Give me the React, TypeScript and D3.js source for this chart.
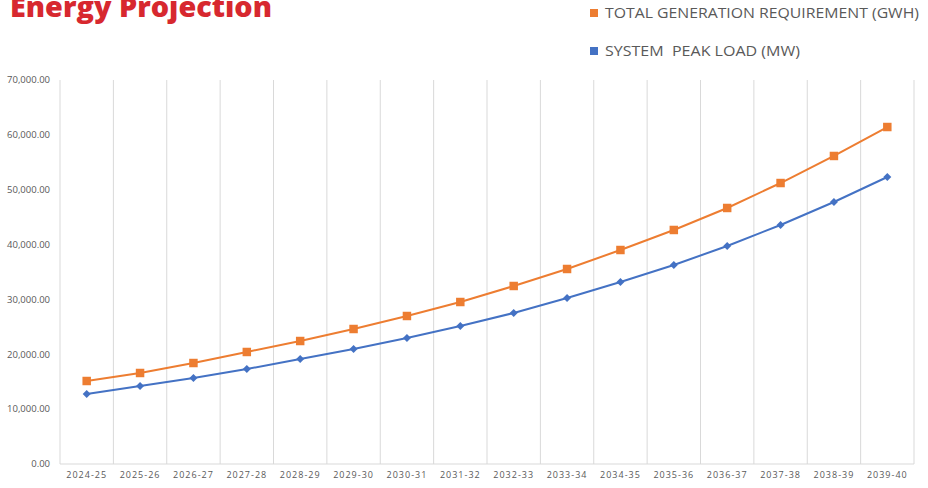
import React from "react";
import * as d3 from "d3";

const categories = ["2024-25","2025-26","2026-27","2027-28","2028-29","2029-30","2030-31","2031-32","2032-33","2033-34","2034-35","2035-36","2036-37","2037-38","2038-39","2039-40"];
const totalGeneration = [15130,16590,18410,20420,22420,24610,26980,29530,32450,35550,39010,42660,46670,51220,56150,61430];
const peakLoad = [12760,14220,15680,17320,19140,20960,22970,25160,27530,30260,33180,36280,39740,43570,47760,52320];
const yTicks = [0,10000,20000,30000,40000,50000,60000,70000];

const W = 928, H = 488;
const M = { left: 60, right: 14, top: 80, bottom: 24 };
const ORANGE = "#ED7D31";
const BLUE = "#4472C4";

export default function App() {
  const x = d3.scaleBand<string>().domain(categories).range([M.left, W - M.right]);
  const y = d3.scaleLinear().domain([0, 70000]).range([H - M.bottom, M.top]);
  const cx = (c: string) => (x(c) as number) + x.bandwidth() / 2;
  const line = d3.line<number>().x((_, i) => cx(categories[i])).y(d => y(d));
  const fmt = d3.format(",.2f");
  const sq = d3.symbol(d3.symbolSquare, 72)();
  const dia = d3.symbol(d3.symbolSquare, 32)();

  return (
    <svg width={W} height={H} style={{ position: "absolute", left: 0, top: 0 }} fontFamily="'Open Sans', sans-serif">
      <rect width={W} height={H} fill="#fff" />
      <text x={10} y={17} fill="#D7282F" fontSize={28} fontWeight={800} fontFamily="'Open Sans', sans-serif" textLength={262} lengthAdjust="spacingAndGlyphs">Energy Projection</text>
      {/* legend */}
      <rect x={590} y={9} width={8} height={8} fill={ORANGE} />
      <text x={605} y={18} fontSize={15} fill="#595959" textLength={314} lengthAdjust="spacingAndGlyphs">TOTAL GENERATION REQUIREMENT (GWH)</text>
      <rect x={590} y={47} width={8} height={8} fill={BLUE} />
      <text x={605} y={56} fontSize={15} fill="#595959" textLength={195} lengthAdjust="spacingAndGlyphs" style={{ whiteSpace: "pre" }}>{"SYSTEM  PEAK LOAD (MW)"}</text>
      {/* vertical gridlines */}
      {categories.map(c => (
        <line key={c} x1={x(c)} x2={x(c)} y1={y(70000)} y2={y(0)} stroke="#D9D9D9" strokeWidth={1} />
      ))}
      <line x1={W - M.right} x2={W - M.right} y1={y(70000)} y2={y(0)} stroke="#D9D9D9" strokeWidth={1} />
      <line x1={M.left} x2={W - M.right} y1={y(0)} y2={y(0)} stroke="#D9D9D9" strokeWidth={1} />
      {/* y labels */}
      {yTicks.map(t => (
        <text key={t} x={50} y={y(t)} dy="0.35em" textAnchor="end" fontSize={9.5} fill="#595959">{fmt(t)}</text>
      ))}
      {/* x labels */}
      {categories.map(c => (
        <text key={c} x={cx(c)} y={478} textAnchor="middle" fontSize={9} letterSpacing={1} fill="#595959">{c}</text>
      ))}
      {/* lines */}
      <path d={line(totalGeneration) as string} fill="none" stroke={ORANGE} strokeWidth={2} />
      <path d={line(peakLoad) as string} fill="none" stroke={BLUE} strokeWidth={2} />
      {totalGeneration.map((v, i) => (
        <path key={i} d={sq as string} transform={`translate(${cx(categories[i])},${y(v)})`} fill={ORANGE} />
      ))}
      {peakLoad.map((v, i) => (
        <path key={i} d={dia as string} transform={`translate(${cx(categories[i])},${y(v)}) rotate(45)`} fill={BLUE} />
      ))}
    </svg>
  );
}
